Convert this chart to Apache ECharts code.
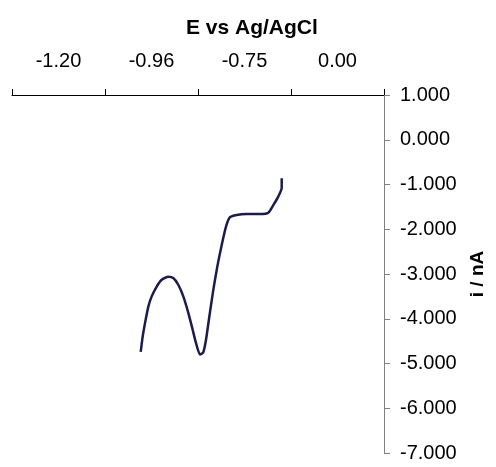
<!DOCTYPE html>
<html>
<head>
<meta charset="utf-8">
<script src="https://cdn.jsdelivr.net/npm/echarts@6/dist/echarts.min.js"></script>
<style>html,body{margin:0;padding:0;background:#fff;}#c{width:496px;height:467px;}</style>
</head>
<body>
<div id="c"></div>
<script>
// Category labels along the top (potential axis, as printed)
var xCategories = ['-1.20', '-0.96', '-0.75', '0.00'];
// Curve position along the category axis (0..4 = axis span)
var curveX = [1.384, 1.405, 1.430, 1.466, 1.502, 1.556, 1.610, 1.681, 1.734, 1.788, 1.842, 1.896, 1.943, 1.978, 2.022, 2.057, 2.086, 2.122, 2.165, 2.208, 2.255, 2.301, 2.344, 2.416, 2.524, 2.667, 2.756, 2.810, 2.863, 2.900, 2.900];
// Current values (nA)
var curveY = [-4.74, -4.40, -4.10, -3.73, -3.50, -3.28, -3.13, -3.06, -3.09, -3.24, -3.50, -3.87, -4.25, -4.54, -4.80, -4.75, -4.47, -3.95, -3.35, -2.83, -2.35, -1.94, -1.73, -1.68, -1.66, -1.66, -1.63, -1.46, -1.27, -1.08, -0.86];
var yMin = -7, yMax = 1, yStep = 1;

var pts = curveX.map(function (x, i) { return [x, curveY[i]]; });
var font = 'Arial, "Liberation Sans", sans-serif';
var chart = echarts.init(document.getElementById('c'), null, {renderer: 'canvas'});
chart.setOption({
  backgroundColor: '#fff',
  animation: false,
  title: {
    text: 'E vs Ag/AgCl', left: 181, top: 13,
    textStyle: {fontFamily: font, fontSize: 21, fontWeight: 'bold', color: '#000'}
  },
  grid: {left: 12, right: 112, top: 95, bottom: 14, containLabel: false},
  xAxis: [{
    type: 'category', position: 'top', data: xCategories, boundaryGap: true,
    axisLine: {show: true, onZero: false, lineStyle: {color: '#000', width: 1}},
    axisTick: {show: true, length: 6, lineStyle: {color: '#000'}},
    axisLabel: {fontFamily: font, fontSize: 20, color: '#000', margin: 24},
    splitLine: {show: false}
  }, {
    type: 'value', position: 'top', min: 0, max: 4, show: false
  }],
  yAxis: {
    type: 'value', position: 'right', min: yMin, max: yMax, interval: yStep,
    name: 'i / nA', nameLocation: 'middle', nameRotate: 90, nameGap: 84,
    nameTextStyle: {fontFamily: font, fontSize: 19, fontWeight: 'bold', color: '#000', padding: [0, 0, -24, 0]},
    axisLine: {show: true, onZero: false, lineStyle: {color: '#808080', width: 1}},
    axisTick: {show: true, length: 6, lineStyle: {color: '#808080'}},
    axisLabel: {fontFamily: font, fontSize: 20, color: '#000', margin: 16,
      formatter: function (v) { return v.toFixed(3); }},
    splitLine: {show: false}
  },
  series: [{
    type: 'line', xAxisIndex: 1, data: pts, smooth: 0.2, showSymbol: false,
    lineStyle: {color: '#1c1c4c', width: 2.5}
  }]
});
</script>
</body>
</html>
